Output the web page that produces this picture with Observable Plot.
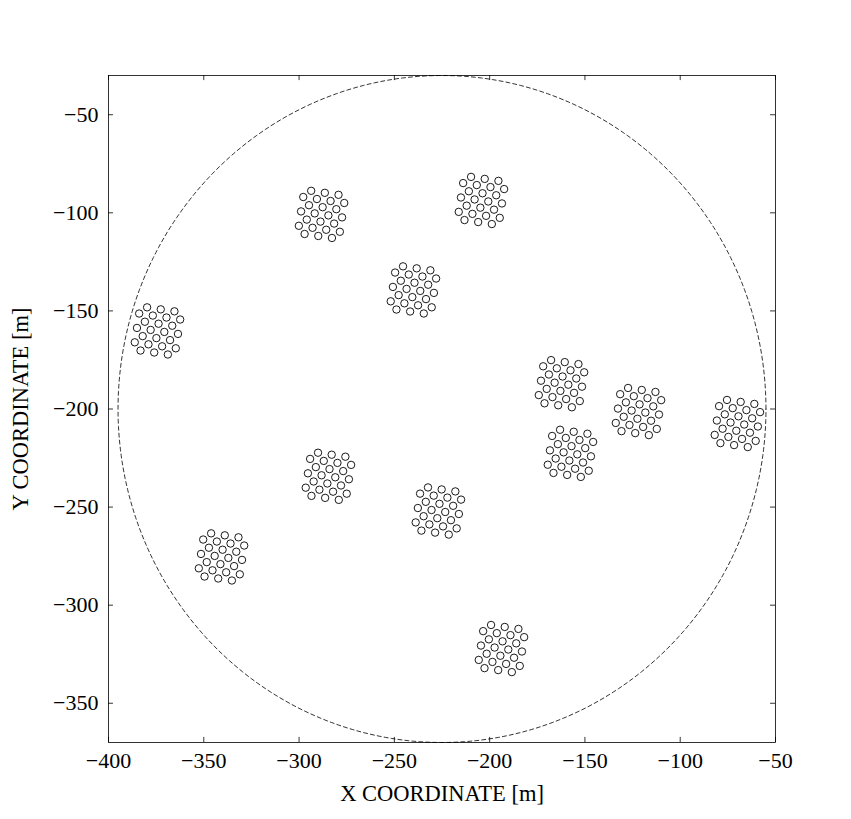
<!DOCTYPE html>
<html>
<head>
<meta charset="utf-8">
<script src="https://cdn.jsdelivr.net/npm/d3@7"></script>
<script src="https://cdn.jsdelivr.net/npm/@observablehq/plot@0.6"></script>
<style>
  html, body { margin: 0; padding: 0; background: #fff; }
  svg { font-family: "Liberation Serif", "DejaVu Serif", serif; }
</style>
</head>
<body>
<div id="chart"></div>
<script>
// Cluster centres (x, y in metres)
const clusterX = [-204.3, -288.2, -240.0, -374.3, -162.3, -121.9, -70.0, -157.6, -284.6, -226.9, -340.7, -193.8];
const clusterY = [-93.7, -100.8, -139.3, -160.2, -187.1, -201.3, -207.4, -222.6, -234.3, -252.0, -275.4, -322.1];

// Turbine offsets within a cluster (same layout in every cluster), metres
const offsetX = [-5.45, 1.72, 8.9, -9.61, -2.44, 4.73, 11.91, -6.6, 0.57, 7.75, -10.76, -3.59, 3.59, 10.76, -7.75, -0.57, 6.6, -11.91, -4.73, 2.44, 9.61, -8.9, -1.72, 5.45];
const offsetY = [12.02, 11.0, 9.99, 8.86, 7.84, 6.83, 5.81, 4.68, 3.67, 2.65, 1.52, 0.51, -0.51, -1.52, -2.65, -3.67, -4.68, -5.81, -6.83, -7.84, -8.86, -9.99, -11.0, -12.02];

// Site boundary circle
const siteCenter = [-225, -200];
const siteRadius = 170;

const xTicks = [-400, -350, -300, -250, -200, -150, -100, -50];
const yTicks = [-50, -100, -150, -200, -250, -300, -350];
const xLabel = "X COORDINATE [m]";
const yLabel = "Y COORDINATE [m]";

const xDomain = [-400, -50];
const yDomain = [-370, -30];

const turbines = [];
clusterX.forEach((cx, k) => {
  offsetX.forEach((dx, i) => turbines.push({x: cx + dx, y: clusterY[k] + offsetY[i]}));
});

const boundary = d3.range(0, 361, 1).map(a => ({
  x: siteCenter[0] + siteRadius * Math.cos(a * Math.PI / 180),
  y: siteCenter[1] + siteRadius * Math.sin(a * Math.PI / 180)
}));

const fmt = d => d < 0 ? "\u2212" + Math.abs(d) : String(d);
const tickLen = 2.6; // data units (~5px)

const chart = Plot.plot({
  width: 851,
  height: 819,
  marginLeft: 108,
  marginRight: 76,
  marginTop: 75,
  marginBottom: 77,
  style: {fontFamily: "'Liberation Serif', serif", fontSize: "22px", color: "#000", background: "#fff"},
  x: {domain: xDomain, axis: null},
  y: {domain: yDomain, axis: null},
  marks: [
    Plot.frame({stroke: "#000", strokeWidth: 0.8}),
    // tick labels
    Plot.text(xTicks, {x: d => d, y: yDomain[0], dy: 18, text: fmt, lineAnchor: "middle", fontSize: 22, fill: "#000"}),
    Plot.text(yTicks, {x: xDomain[0], y: d => d, dx: -10, text: fmt, textAnchor: "end", lineAnchor: "middle", fontSize: 22, fill: "#000"}),
    // axis titles
    Plot.text([xLabel], {frameAnchor: "bottom", dy: 51, text: d => d, lineAnchor: "middle", textAnchor: "middle", fontSize: 22.5, fill: "#000"}),
    Plot.text([yLabel], {frameAnchor: "left", dx: -88, rotate: -90, text: d => d, lineAnchor: "middle", textAnchor: "middle", fontSize: 22.5, fill: "#000"}),
    // inward ticks on all four sides
    Plot.ruleX(xTicks, {x: d => d, y1: yDomain[0], y2: yDomain[0] + tickLen, stroke: "#000", strokeWidth: 0.8}),
    Plot.ruleX(xTicks, {x: d => d, y1: yDomain[1], y2: yDomain[1] - tickLen, stroke: "#000", strokeWidth: 0.8}),
    Plot.ruleY(yTicks, {y: d => d, x1: xDomain[0], x2: xDomain[0] + tickLen, stroke: "#000", strokeWidth: 0.8}),
    Plot.ruleY(yTicks, {y: d => d, x1: xDomain[1], x2: xDomain[1] - tickLen, stroke: "#000", strokeWidth: 0.8}),
    Plot.line(boundary, {x: "x", y: "y", stroke: "#000", strokeWidth: 0.8, strokeDasharray: "4,3"}),
    Plot.dot(turbines, {x: "x", y: "y", r: 3.7, stroke: "#000", strokeWidth: 0.9, fill: "#fff"})
  ]
});
document.getElementById("chart").appendChild(chart);
</script>
</body>
</html>
